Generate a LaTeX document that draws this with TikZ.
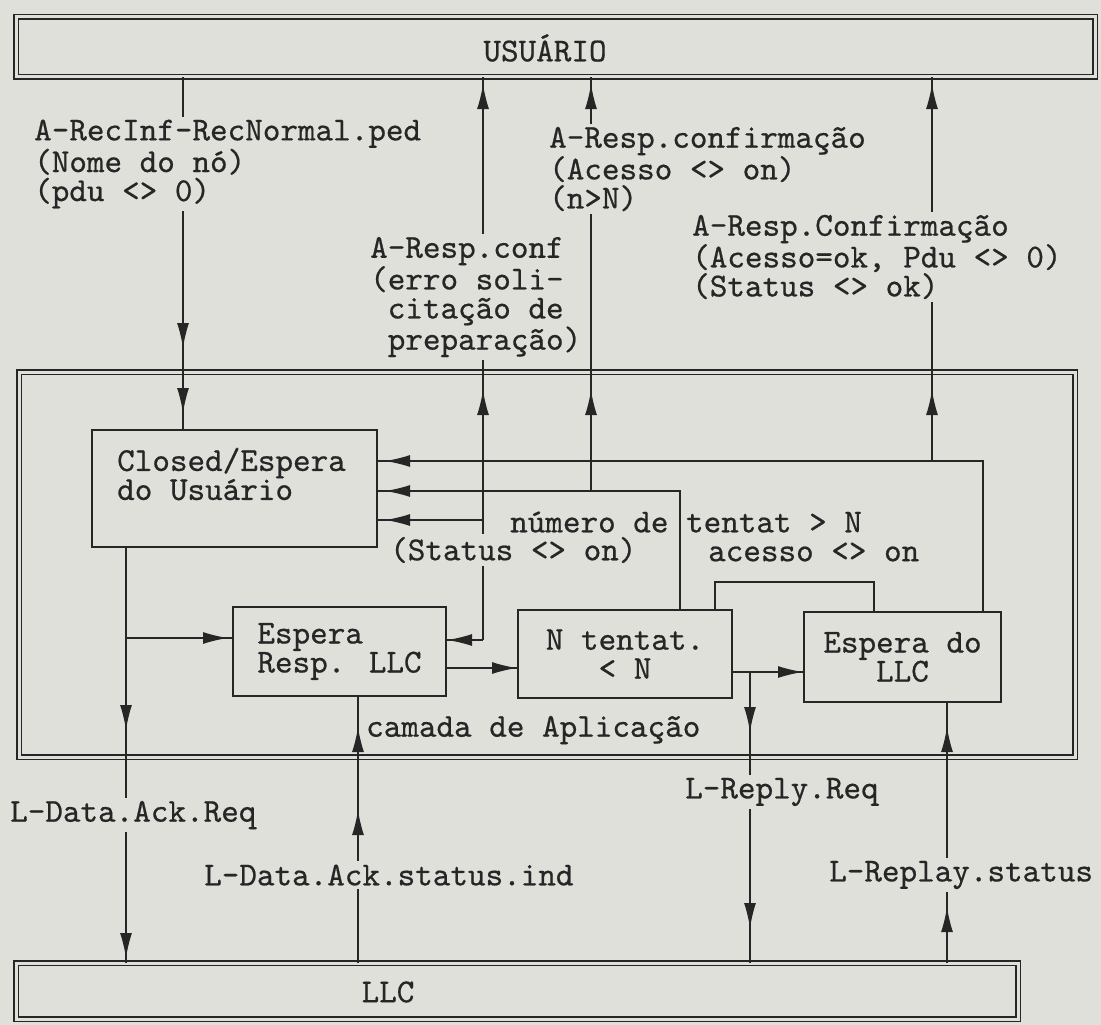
\documentclass[tikz,border=0pt]{standalone}
\usepackage{fontspec}
\newfontfamily\tyf{lmmono10-regular.otf}[FakeBold=0.6]
\usetikzlibrary{arrows.meta,decorations.markings}
\definecolor{bg}{RGB}{224,224,219}
\definecolor{ink}{RGB}{38,38,38}
\newcommand\lbf{\tyf\fontsize{33.5pt}{29pt}\selectfont}
\tikzset{
  tipat/.style={postaction={decorate,decoration={markings,
      mark=at position #1 with {\arrow{Latex[length=25pt,width=12pt]}}}}},
  conn/.style={draw=ink,line width=1.5pt},
  box/.style={draw=ink,line width=1.6pt,inner sep=0pt,outer sep=0pt,
      anchor=north west,font=\lbf,text=ink},
  dbox/.style={draw=ink,line width=1.3pt,double=bg,double distance=3pt,
      inner sep=0pt,outer sep=0pt,anchor=north west},
  lbl/.style={font=\lbf,text=ink,anchor=west,inner sep=1pt},
  lblf/.style={lbl,fill=bg,inner sep=3pt},
}
\begin{document}
\begin{tikzpicture}[x=1pt,y=-1pt]
\fill[bg] (0,0) rectangle (1101,1025);
\useasboundingbox (0,0) rectangle (1101,1025);

% outer boxes
\node[dbox,minimum width=1079pt,minimum height=60pt] (usr) at (16,17) {};
\node[dbox,minimum width=1056pt,minimum height=385pt] (app) at (19,372) {};
\node[dbox,minimum width=1002pt,minimum height=56pt] (llc) at (16,963) {};
\node[font=\lbf,text=ink] (usrtxt) at (545,48) {USUÁRIO};
\node[font=\lbf,text=ink] (llctxt) at (388,992) {LLC};

% inner boxes
\node[box,minimum width=285pt,minimum height=117pt] (closed) at (92,430) {};
\node[lbl,align=left] (closedtxt) at (116,474) {Closed/Espera\\do Usuário};
\node[box,minimum width=213pt,minimum height=89pt,align=left] (esp1) at (233,607) {Espera\\Resp. LLC};
\node[box,minimum width=214pt,minimum height=88pt,align=center] (ntent) at (518,610) {N tentat.\\< N};
\node[box,minimum width=197pt,minimum height=90pt,align=center] (esp2) at (804,612) {Espera do\\LLC};

% junctions
\coordinate (j2) at (483,640);
\coordinate (b2) at (483,520);
\coordinate (j3) at (680,491);
\coordinate (b3) at (591,491);
\coordinate (j4) at (983,461);
\coordinate (b4) at (932,461);
\coordinate (b6) at (126,638);
\coordinate (b8) at (750,672);
\coordinate (lp) at (715,582);

% connectors
\draw[conn,tipat=271pt,tipat=336pt] (usr.south -| 183,0) -- (closed.north -| 183,0);

\draw[conn,tipat=250pt,tipat=-7pt] (j2) -- (j2 |- usr.south);
\draw[conn,tipat=-1pt] (j2) -- (j2 -| esp1.east);
\draw[conn,tipat=-8pt] (b2) -- (b2 -| closed.east);

\draw[conn,tipat=-8pt] (ntent.north -| j3) -- (j3) -- (j3 -| closed.east);
\draw[conn,tipat=101pt,tipat=-7pt] (b3) -- (b3 |- usr.south);

\draw[conn,tipat=-8pt] (esp2.north -| j4) -- (j4) -- (j4 -| closed.east);
\draw[conn,tipat=71pt,tipat=-7pt] (b4) -- (b4 |- usr.south);

\draw[conn] (ntent.north -| lp) -- (lp) -| (esp2.north -| 874,0);

\draw[conn,tipat=183pt,tipat=-5pt] (closed.south -| b6) -- (b6 |- llc.north);
\draw[conn,tipat=-5pt] (b6) -- (b6 -| esp1.west);

\draw[conn,tipat=-1pt] (esp1.east |- 0,668) -- (ntent.west |- 0,668);
\draw[conn,tipat=-1pt] (ntent.east |- b8) -- (esp2.west |- b8);
\draw[conn,tipat=60pt,tipat=256pt] (b8) -- (b8 |- llc.north);

\draw[conn,tipat=153pt,tipat=236pt] (llc.north -| 358,0) -- (esp1.south -| 358,0);
\draw[conn,tipat=56pt,tipat=236pt] (llc.north -| 947,0) -- (esp2.south -| 947,0);

% labels
\node[lblf,align=left] (t1) at (31,164) {A-RecInf-RecNormal.ped\\(Nome do nó)\\(pdu <> 0)};
\node[lblf,align=left] (t2) at (546,169) {A-Resp.confirmação\\(Acesso <> on)\\(n>N)};
\node[lblf,align=left] (t3) at (689,257) {A-Resp.Confirmação\\(Acesso=ok, Pdu <> 0)\\(Status <> ok)};
\node[lblf,align=left] (t4) at (367,297) {A-Resp.conf\\(erro soli-\\\phantom{(}citação de\\\phantom{(}preparação)};
\node[lblf] (t5) at (387,550) {(Status <> on)};
\node[lbl] (t6) at (509,522) {número de tentat > N};
\node[lbl] (t7) at (707,552) {acesso <> on};
\node[lbl] (t8) at (365,730) {camada de Aplicação};
\node[lblf] (t9) at (7,815) {L-Data.Ack.Req};
\node[lblf] (t10) at (201,875) {L-Data.Ack.status.ind};
\node[lblf] (t11) at (682,792) {L-Reply.Req};
\node[lblf] (t12) at (826,875) {L-Replay.status};
\end{tikzpicture}
\end{document}
